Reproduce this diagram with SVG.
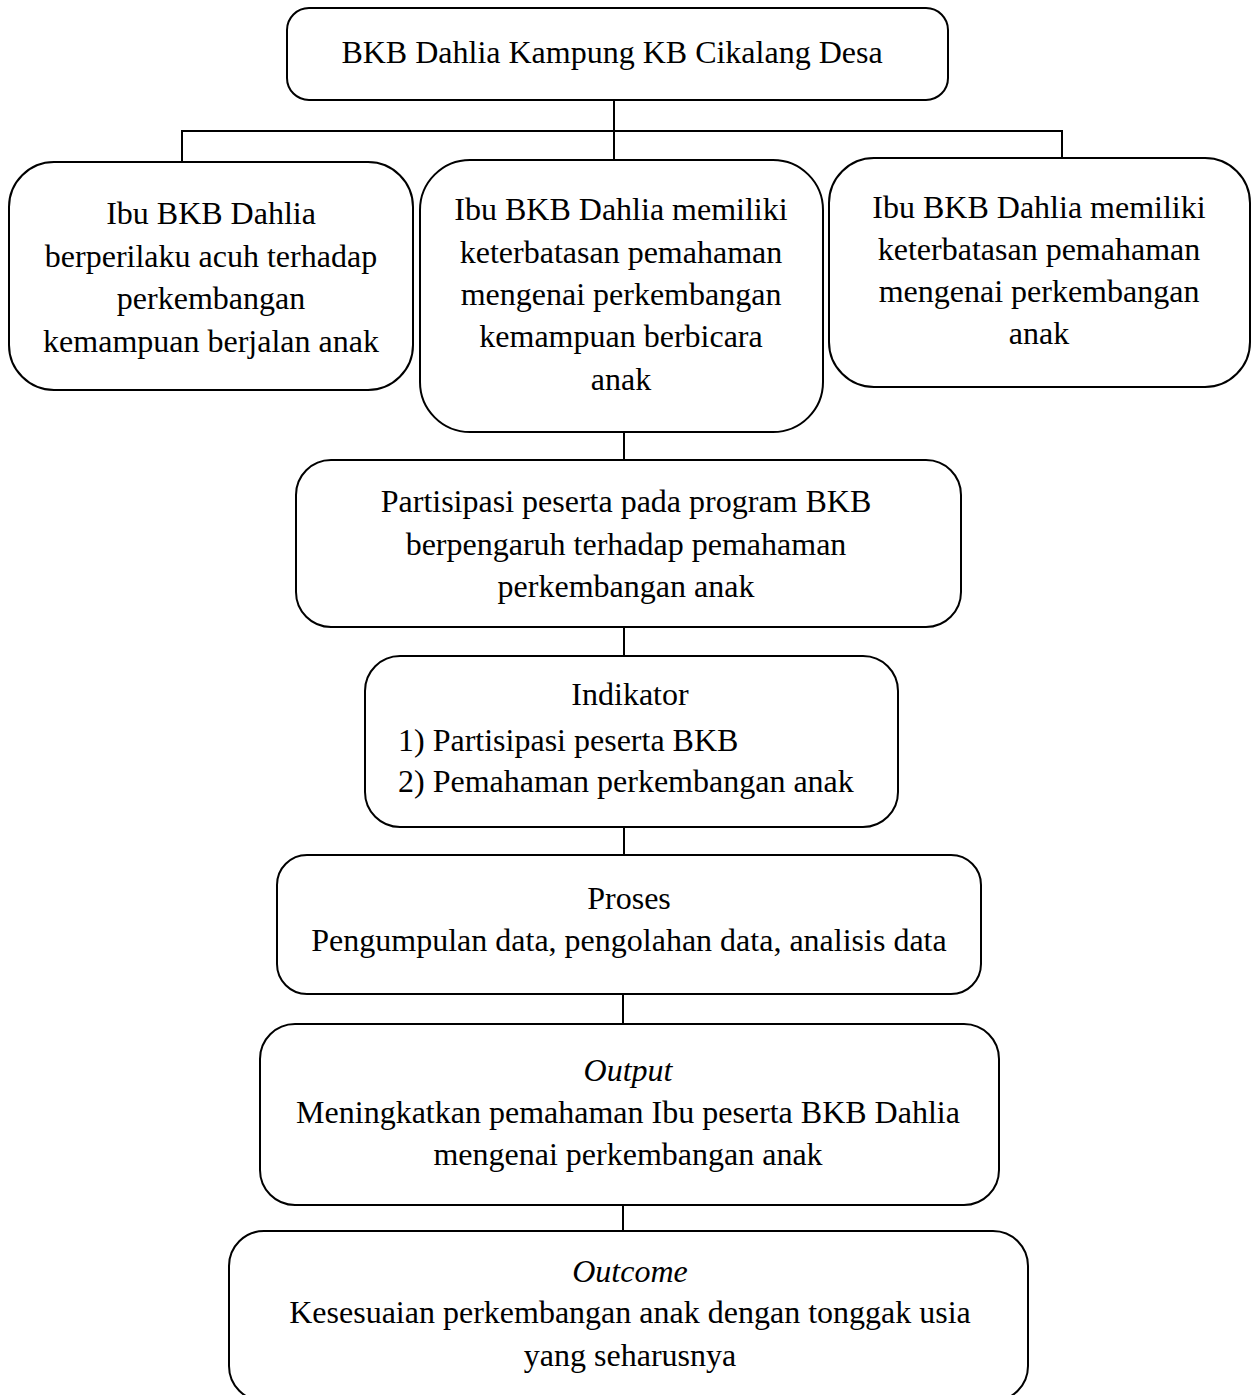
<svg xmlns="http://www.w3.org/2000/svg" width="1257" height="1395" viewBox="0 0 1257 1395">
<style>
.box{fill:#fff;stroke:#000;stroke-width:2}
.t{font-family:"Liberation Serif","Times New Roman",serif;font-size:32px;fill:#000;text-anchor:middle}
.l{text-anchor:start}
.i{font-style:italic}
.c{stroke:#000;stroke-width:2;fill:none}
</style>
<rect width="1257" height="1395" fill="#fff"/>
<g id="connectors">
<line class="c" x1="614" y1="100" x2="614" y2="131"/>
<line class="c" x1="181" y1="131" x2="1063" y2="131"/>
<line class="c" x1="182" y1="131" x2="182" y2="162"/>
<line class="c" x1="614" y1="131" x2="614" y2="160"/>
<line class="c" x1="1062" y1="131" x2="1062" y2="158"/>
<line class="c" x1="624" y1="432" x2="624" y2="460"/>
<line class="c" x1="624" y1="627" x2="624" y2="656"/>
<line class="c" x1="624" y1="827" x2="624" y2="855"/>
<line class="c" x1="623" y1="994" x2="623" y2="1024"/>
<line class="c" x1="623" y1="1205" x2="623" y2="1231"/>
</g>
<g id="n-top">
<rect class="box" x="287" y="8" width="661" height="92" rx="22"/>
<text class="t" x="612" y="63">BKB Dahlia Kampung KB Cikalang Desa</text>
</g>
<g id="n-left">
<rect class="box" x="9" y="162" width="404" height="228" rx="45"/>
<text class="t" x="211" y="224">Ibu BKB Dahlia</text>
<text class="t" x="211" y="267">berperilaku acuh terhadap</text>
<text class="t" x="211" y="309">perkembangan</text>
<text class="t" x="211" y="352">kemampuan berjalan anak</text>
</g>
<g id="n-mid">
<rect class="box" x="420" y="160" width="403" height="272" rx="50"/>
<text class="t" x="621" y="220">Ibu BKB Dahlia memiliki</text>
<text class="t" x="621" y="263">keterbatasan pemahaman</text>
<text class="t" x="621" y="305">mengenai perkembangan</text>
<text class="t" x="621" y="347">kemampuan berbicara</text>
<text class="t" x="621" y="390">anak</text>
</g>
<g id="n-right">
<rect class="box" x="829" y="158" width="421" height="229" rx="45"/>
<text class="t" x="1039" y="218">Ibu BKB Dahlia memiliki</text>
<text class="t" x="1039" y="260">keterbatasan pemahaman</text>
<text class="t" x="1039" y="302">mengenai perkembangan</text>
<text class="t" x="1039" y="344">anak</text>
</g>
<g id="n-partisipasi">
<rect class="box" x="296" y="460" width="665" height="167" rx="35"/>
<text class="t" x="626" y="512">Partisipasi peserta pada program BKB</text>
<text class="t" x="626" y="555">berpengaruh terhadap pemahaman</text>
<text class="t" x="626" y="597">perkembangan anak</text>
</g>
<g id="n-indikator">
<rect class="box" x="365" y="656" width="533" height="171" rx="35"/>
<text class="t" x="630" y="705">Indikator</text>
<text class="t l" x="398" y="751">1) Partisipasi peserta BKB</text>
<text class="t l" x="398" y="792">2) Pemahaman perkembangan anak</text>
</g>
<g id="n-proses">
<rect class="box" x="277" y="855" width="704" height="139" rx="30"/>
<text class="t" x="629" y="909">Proses</text>
<text class="t" x="629" y="951">Pengumpulan data, pengolahan data, analisis data</text>
</g>
<g id="n-output">
<rect class="box" x="260" y="1024" width="739" height="181" rx="35"/>
<text class="t i" x="628" y="1081">Output</text>
<text class="t" x="628" y="1123">Meningkatkan pemahaman Ibu peserta BKB Dahlia</text>
<text class="t" x="628" y="1165">mengenai perkembangan anak</text>
</g>
<g id="n-outcome">
<rect class="box" x="229" y="1231" width="799" height="170" rx="35"/>
<text class="t i" x="630" y="1282">Outcome</text>
<text class="t" x="630" y="1323">Kesesuaian perkembangan anak dengan tonggak usia</text>
<text class="t" x="630" y="1366">yang seharusnya</text>
</g>
</svg>
